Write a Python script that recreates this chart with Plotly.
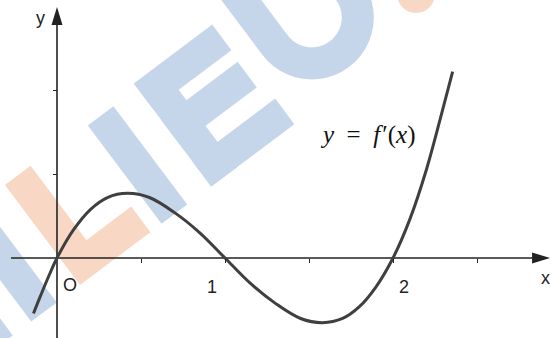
import math
import plotly.graph_objects as go

# ---------------- data ----------------
x_vals = [-0.14, -0.1, -0.05, 0.0, 0.1, 0.2, 0.3, 0.42, 0.55, 0.7, 0.85, 1.0,
          1.15, 1.3, 1.45, 1.58, 1.7, 1.8, 1.9, 2.0, 2.1, 2.2, 2.3, 2.355]
y_vals = [-0.33, -0.23, -0.11, 0.0, 0.17, 0.29, 0.36, 0.385, 0.36, 0.27, 0.15, 0.0,
          -0.15, -0.27, -0.36, -0.385, -0.36, -0.29, -0.17, 0.0, 0.23, 0.53, 0.9, 1.11]
x_tick_vals = [0.5, 1.0, 1.5, 2.0, 2.5]
y_tick_vals = [0.5, 1.0]
tick_labels = ["O", "1", "2"]
tick_label_x = [0.077, 0.923, 2.065]
tick_label_y = [-0.162, -0.172, -0.172]
axis_names = ["x", "y"]
curve_label = "<i>y</i>\u2002=\u2002<i>f</i>\u200a\u2032(<i>x</i>)"
curve_label_pos = (1.85, 0.73)

# ---------------- layout constants ----------------
W, H = 551, 338
X_RANGE = [-0.3393, 2.9405]
Y_RANGE = [-0.4762, 1.5357]
SX = W / (X_RANGE[1] - X_RANGE[0])
SY = H / (Y_RANGE[1] - Y_RANGE[0])
AX_COL = "#222222"
CURVE_COL = "#3f3f3f"
BLUE = "rgb(198,214,234)"
ORANGE = "rgb(249,215,197)"

fig = go.Figure()
fig.add_trace(go.Scatter(x=x_vals, y=y_vals, mode="lines",
                         line=dict(color=CURVE_COL, width=3, shape="spline"),
                         hoverinfo="skip", showlegend=False))

shapes = []

# ---------------- watermark (decoration) ----------------
WM_O = (80, 285)
EU = (0.8, -0.6)
EV = (-0.6, -0.8)


def wm_pt(u, v):
    px = WM_O[0] + u * EU[0] + v * EV[0]
    py = WM_O[1] + u * EU[1] + v * EV[1]
    return px / W, 1 - py / H


def wm_path(pts):
    s = []
    for i, (u, v) in enumerate(pts):
        x, y = wm_pt(u, v)
        s.append(("M" if i == 0 else "L") + f"{x:.5f},{y:.5f}")
    return " ".join(s)


strokes = [
    (BLUE, [(-45, 0), (-45, 170)]),
    (BLUE, [(-100, 0), (-100, 170)]),
    (ORANGE, [(16, 125), (16, 16), (88, 16)]),
    (BLUE, [(118, 0), (118, 123)]),
    (BLUE, [(180, 0), (180, 128)]),
    (BLUE, [(164, 16), (268, 16)]),
    (BLUE, [(164, 68), (260, 68)]),
    (BLUE, [(164, 113), (262, 113)]),
]
u_pts = [(300, 180), (300, 75)]
for k in range(1, 24):
    th = math.pi + math.pi * k / 24
    u_pts.append((346 + 46 * math.cos(th), 75 + 46 * math.sin(th)))
u_pts += [(392, 75), (392, 180)]
strokes.append((BLUE, u_pts))

for col, pts in strokes:
    shapes.append(dict(type="path", path=wm_path(pts), xref="paper", yref="paper",
                       line=dict(color=col, width=32), layer="below"))
shapes.append(dict(type="circle", xref="paper", yref="paper",
                   x0=397 / W, x1=435 / W, y0=1 - 13 / H, y1=1 + 25 / H,
                   fillcolor=ORANGE, line=dict(width=0), layer="below"))

# ---------------- axes with arrows ----------------
x_tip = 2.935
y_tip = 1.494
ah_len, ah_half = 18, 5.5
shapes.append(dict(type="line", xref="x", yref="y", x0=-0.274, x1=x_tip - 10 / SX,
                   y0=0, y1=0, line=dict(color=AX_COL, width=1.6), layer="below"))
shapes.append(dict(type="line", xref="x", yref="y", x0=0, x1=0,
                   y0=Y_RANGE[0] - 0.05, y1=y_tip - 10 / SY,
                   line=dict(color=AX_COL, width=1.6), layer="below"))
shapes.append(dict(type="path", xref="x", yref="y",
                   path=f"M{x_tip},0 L{x_tip - ah_len / SX},{ah_half / SY} "
                        f"L{x_tip - ah_len / SX},{-ah_half / SY} Z",
                   fillcolor=AX_COL, line=dict(width=0)))
shapes.append(dict(type="path", xref="x", yref="y",
                   path=f"M0,{y_tip} L{ah_half / SX},{y_tip - ah_len / SY} "
                        f"L{-ah_half / SX},{y_tip - ah_len / SY} Z",
                   fillcolor=AX_COL, line=dict(width=0)))

annotations = []
for t, x, y in zip(tick_labels, tick_label_x, tick_label_y):
    annotations.append(dict(x=x, y=y, xref="x", yref="y", text=t, showarrow=False,
                            font=dict(family="Liberation Sans, Arial", size=18, color=AX_COL)))
annotations.append(dict(x=2.91, y=-0.12, xref="x", yref="y", text=axis_names[0],
                        showarrow=False,
                        font=dict(family="Liberation Sans, Arial", size=18, color=AX_COL)))
annotations.append(dict(x=-0.1, y=1.426, xref="x", yref="y", text=axis_names[1],
                        showarrow=False,
                        font=dict(family="Liberation Sans, Arial", size=18, color=AX_COL)))
annotations.append(dict(x=curve_label_pos[0], y=curve_label_pos[1], xref="x", yref="y",
                        text=curve_label, showarrow=False,
                        font=dict(family="Liberation Serif, Times New Roman", size=25,
                                  color="#111111")))

fig.update_layout(
    width=W, height=H, margin=dict(l=0, r=0, t=0, b=0),
    paper_bgcolor="white", plot_bgcolor="white",
    shapes=shapes, annotations=annotations, showlegend=False,
    xaxis=dict(range=X_RANGE, showgrid=False, zeroline=False, showline=False,
               ticks="outside", ticklen=4, tickwidth=1.3, tickcolor=AX_COL,
               tickvals=x_tick_vals, showticklabels=False, fixedrange=True,
               anchor="free", position=(0 - Y_RANGE[0]) / (Y_RANGE[1] - Y_RANGE[0])),
    yaxis=dict(range=Y_RANGE, showgrid=False, zeroline=False, showline=False,
               ticks="outside", ticklen=4, tickwidth=1.3, tickcolor=AX_COL,
               tickvals=y_tick_vals, showticklabels=False, fixedrange=True,
               anchor="free", position=(0 - X_RANGE[0]) / (X_RANGE[1] - X_RANGE[0])),
)

fig.write_html("out.html", config={"displayModeBar": False},
               post_script="document.body.style.margin='0px';")
